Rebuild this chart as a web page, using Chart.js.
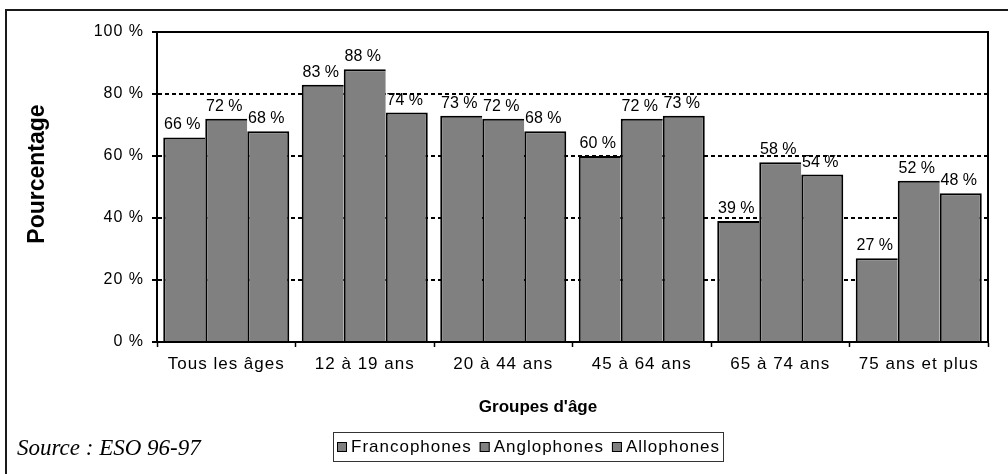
<!DOCTYPE html>
<html><head><meta charset="utf-8">
<script src="https://cdn.jsdelivr.net/npm/chart.js@4.4.0/dist/chart.umd.min.js"></script>
<style>html,body{margin:0;padding:0;background:#fff;}canvas{display:block}</style>
</head><body>
<canvas id="c" width="1008" height="474"></canvas>
<script>
const categories = ["Tous les âges", "12 à 19 ans", "20 à 44 ans", "45 à 64 ans", "65 à 74 ans", "75 ans et plus"];
const seriesNames = ["Francophones", "Anglophones", "Allophones"];
const francophones = [66, 83, 73, 60, 39, 27];
const anglophones = [72, 88, 72, 72, 58, 52];
const allophones = [68, 74, 68, 73, 54, 48];
const yTicks = [0, 20, 40, 60, 80, 100];
const yTitle = "Pourcentage";
const xTitle = "Groupes d'âge";
const sourceText = "Source : ESO 96-97";

const SANS = "Arial, 'Liberation Sans', sans-serif";
const SERIF = "'Times New Roman', 'Liberation Serif', serif";
const BAR_FILL = "#808080";

const seriesValues = [francophones, anglophones, allophones];

const datasets = seriesValues.map((vals, i) => ({
  label: seriesNames[i],
  data: vals,
  backgroundColor: BAR_FILL,
  borderColor: "#000",
  borderSkipped: false,
  borderWidth: i === seriesValues.length - 1
    ? { top: 2, left: 2, right: 2, bottom: 0 }
    : { top: 2, left: 2, right: 0, bottom: 0 }
}));

const spacing = {
  id: "spacing",
  beforeInit(chart) { if ("letterSpacing" in chart.ctx) chart.ctx.letterSpacing = "1px"; },
  beforeUpdate(chart) { if ("letterSpacing" in chart.ctx) chart.ctx.letterSpacing = "1px"; },
  beforeDraw(chart) { if ("letterSpacing" in chart.ctx) chart.ctx.letterSpacing = "1px"; }
};

function setSpacing(ctx, v) { if ("letterSpacing" in ctx) ctx.letterSpacing = v; }

const decor = {
  id: "decor",
  afterDatasetsDraw(chart) {
    const ctx = chart.ctx;
    ctx.save();
    setSpacing(ctx, "0px");
    ctx.font = "16px " + SANS;
    ctx.fillStyle = "#000";
    ctx.textAlign = "center";
    ctx.textBaseline = "alphabetic";
    chart.data.datasets.forEach((ds, di) => {
      const meta = chart.getDatasetMeta(di);
      meta.data.forEach((bar, i) => {
        ctx.fillText(ds.data[i] + " %", bar.x - 2, bar.y - 8);
      });
    });
    ctx.restore();
  },
  afterDraw(chart) {
    const ctx = chart.ctx;
    const a = chart.chartArea;
    ctx.save();
    // plot frame top/right
    ctx.strokeStyle = "#000";
    ctx.lineWidth = 2;
    ctx.beginPath();
    ctx.moveTo(a.left, a.top);
    ctx.lineTo(a.right, a.top);
    ctx.lineTo(a.right, a.bottom);
    ctx.stroke();
    // outer frame (left & top visible)
    ctx.strokeStyle = "#1a1a1a";
    ctx.lineWidth = 2;
    ctx.beginPath();
    ctx.moveTo(6, 480);
    ctx.lineTo(6, 10);
    ctx.lineTo(1010, 10);
    ctx.stroke();
    // y title
    setSpacing(ctx, "0px");
    ctx.fillStyle = "#000";
    ctx.font = "bold 23px " + SANS;
    ctx.textAlign = "center";
    ctx.textBaseline = "middle";
    ctx.save();
    ctx.translate(38, 174);
    ctx.rotate(-Math.PI / 2);
    ctx.fillText(yTitle, 0, 0);
    ctx.restore();
    // x title
    setSpacing(ctx, "0px");
    ctx.font = "bold 17px " + SANS;
    ctx.fillText(xTitle, 538, 407);
    // source
    ctx.font = "italic 23px " + SERIF;
    ctx.textAlign = "left";
    ctx.textBaseline = "alphabetic";
    ctx.fillText(sourceText, 17, 455);
    // legend
    ctx.strokeStyle = "#333";
    ctx.lineWidth = 1;
    ctx.strokeRect(333.5, 432.5, 390, 29);
    setSpacing(ctx, "1px");
    ctx.font = "17px " + SANS;
    ctx.textBaseline = "middle";
    let x = 337;
    seriesNames.forEach((name) => {
      ctx.fillStyle = BAR_FILL;
      ctx.fillRect(x, 442, 10, 10);
      ctx.strokeStyle = "#000";
      ctx.strokeRect(x + 0.5, 442.5, 9, 9);
      ctx.fillStyle = "#000";
      ctx.fillText(name, x + 14, 447);
      x += 14 + ctx.measureText(name).width + 8;
    });
    ctx.restore();
  }
};

new Chart(document.getElementById("c"), {
  type: "bar",
  data: { labels: categories, datasets },
  options: {
    responsive: false,
    devicePixelRatio: 1,
    animation: false,
    events: [],
    layout: { padding: { left: 0, top: 32, right: 20, bottom: 0 } },
    plugins: { legend: { display: false }, tooltip: { enabled: false } },
    datasets: { bar: { categoryPercentage: 0.91, barPercentage: 1.0 } },
    scales: {
      x: {
        afterFit(s) { s.height = 132; },
        grid: { display: true, drawOnChartArea: false, offset: true, tickLength: 5, tickColor: "#000", tickWidth: 1.5 },
        border: { display: true, color: "#000", width: 2 },
        ticks: { color: "#000", font: { family: SANS, size: 17 }, padding: 7, maxRotation: 0, autoSkip: false }
      },
      y: {
        min: 0, max: 100,
        afterFit(s) { s.width = 157; },
        afterBuildTicks(s) { s.ticks = yTicks.map(v => ({ value: v })); },
        grid: {
          color: (c) => (c.tick && (c.tick.value === 0 || c.tick.value === 100)) ? "rgba(0,0,0,0)" : "#000",
          lineWidth: 2, tickLength: 5, tickColor: "#000", tickWidth: 2
        },
        border: { display: true, color: "#000", width: 2, dash: [4, 3] },
        ticks: { color: "#000", font: { family: SANS, size: 16 }, padding: 8, callback: (v) => v + " %" }
      }
    }
  },
  plugins: [spacing, decor]
});
</script>
</body></html>
